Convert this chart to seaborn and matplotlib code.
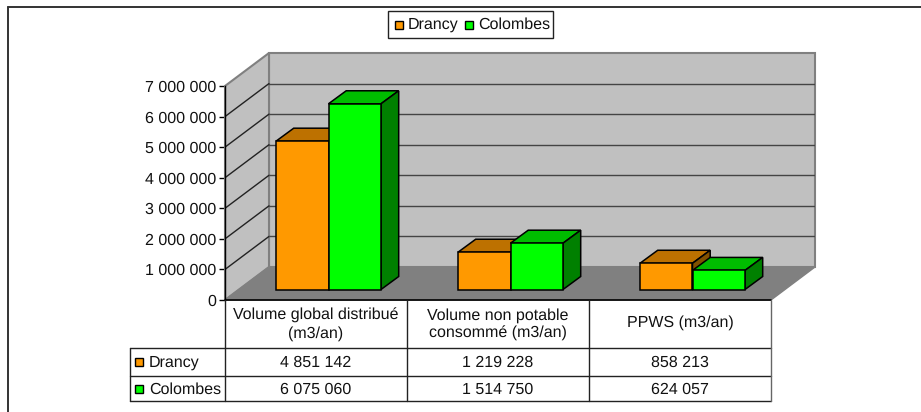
import matplotlib
matplotlib.use("Agg")
import matplotlib.pyplot as plt
from matplotlib.patches import Polygon, Rectangle
from matplotlib.lines import Line2D
import pandas as pd
import seaborn as sns

categories = ["Volume global distribué\n(m3/an)", "Volume non potable\nconsommé (m3/an)", "PPWS (m3/an)"]
series_names = ["Drancy", "Colombes"]
drancy = [4851142, 1219228, 858213]
colombes = [6075060, 1514750, 624057]
y_ticks = [0, 1000000, 2000000, 3000000, 4000000, 5000000, 6000000, 7000000]
fmt = lambda v: f"{v:,}".replace(",", " ")

FRONT = {"Drancy": "#FF9900", "Colombes": "#00FF00"}
TOP = {"Drancy": "#BD7100", "Colombes": "#00BD00"}
SIDE = {"Drancy": "#805000", "Colombes": "#008000"}

W, H = 921, 412
sns.set_theme(style="white")
plt.rcParams["font.family"] = ["Liberation Sans", "DejaVu Sans"]
plt.rcParams["text.hinting"] = "no_hinting"
plt.rcParams["text.hinting_factor"] = 1
FS = 11.5
fig = plt.figure(figsize=(W / 100, H / 100), dpi=100)

# full-figure overlay in pixel coords (frame, legend, data table)
ov = fig.add_axes([0, 0, 1, 1], zorder=3)
ov.set_xlim(0, W); ov.set_ylim(H, 0); ov.axis("off"); ov.patch.set_alpha(0)

# plot box: x 225..815 px, y 53..300 px
L, R, T, B = 225, 815, 53, 300
ax = fig.add_axes([L / W, 1 - B / H, (R - L) / W, (B - T) / H], zorder=2)
ax.patch.set_alpha(0)
fig.patch.set_facecolor("white")

df = pd.DataFrame({
    "cat": categories * 2,
    "series": [series_names[0]] * 3 + [series_names[1]] * 3,
    "value": drancy + colombes,
})
GROUP_W = 105 / 182
sns.barplot(data=df, x="cat", y="value", hue="series", palette=FRONT, width=GROUP_W, gap=0,
            dodge=True, legend=False, ax=ax, edgecolor="black", linewidth=1.1, saturation=1, zorder=5)

PX_PER_CAT = 182
PX_PER_VAL = 214 / 7000000
ax.set_xlim(-0.5, -0.5 + (R - L) / PX_PER_CAT)
ax.set_ylim(0, (B - T) / PX_PER_VAL)
px = lambda p: p / PX_PER_CAT
py = lambda p: p / PX_PER_VAL

# 3-D depth of the room and of the bars, in px
RD_X, RD_Y = 44, 33
BD_X, BD_Y = 17.7, 13
SH_X, SH_Y = 12.5, 10.5
x0, x1 = -0.5, 2.5
top = 7000000

ax.add_patch(Polygon([(x0 + px(RD_X), py(RD_Y)), (x1 + px(RD_X), py(RD_Y)),
                      (x1 + px(RD_X), top + py(RD_Y)), (x0 + px(RD_X), top + py(RD_Y))],
                     fc="#C0C0C0", ec="#808080", lw=1.5, zorder=1, clip_on=False))
ax.add_patch(Polygon([(x0, 0), (x0 + px(RD_X), py(RD_Y)),
                      (x0 + px(RD_X), top + py(RD_Y)), (x0, top)],
                     fc="#C0C0C0", ec="#808080", lw=1.5, zorder=1, clip_on=False))
ax.add_patch(Polygon([(x0, 0), (x1, 0), (x1 + px(RD_X), py(RD_Y)), (x0 + px(RD_X), py(RD_Y))],
                     fc="#808080", ec="#808080", lw=1, zorder=1.5, clip_on=False))
for v in y_ticks[1:-1]:
    ax.plot([x0, x0 + px(RD_X)], [v, v + py(RD_Y)], color="#222222", lw=1, zorder=2)
    ax.plot([x0 + px(RD_X), x1 + px(RD_X)], [v + py(RD_Y)] * 2, color="#444444", lw=1, zorder=2)

bars = [b for b in ax.patches if isinstance(b, Rectangle)]
names = [series_names[0]] * 3 + [series_names[1]] * 3
for b, n in zip(bars, names):
    b.set_x(b.get_x() + px(SH_X))
    b.set_y(py(SH_Y))
    xa, xb = b.get_x(), b.get_x() + b.get_width()
    yb, yt = b.get_y(), b.get_y() + b.get_height()
    dx, dy = px(BD_X), py(BD_Y)
    z = 4 if n == "Drancy" else 4.5
    b.set_zorder(z + 0.2)
    ax.add_patch(Polygon([(xa, yt), (xb, yt), (xb + dx, yt + dy), (xa + dx, yt + dy)],
                         fc=TOP[n], ec="black", lw=1.1, zorder=z))
    ax.add_patch(Polygon([(xb, yb), (xb + dx, yb + dy), (xb + dx, yt + dy), (xb, yt)],
                         fc=SIDE[n], ec="black", lw=1.1, zorder=z))

ax.set_xlabel(""); ax.set_ylabel("")
ax.set_xticks([])
ax.set_yticks(y_ticks)
ax.set_yticklabels([fmt(v) for v in y_ticks], fontsize=FS, color="#111111")
ax.tick_params(axis="y", length=4, width=1, color="black", pad=2, left=True)
for s in ["top", "right", "bottom"]:
    ax.spines[s].set_visible(False)
ax.spines["left"].set_bounds(0, top)
ax.spines["left"].set_color("black")
ax.spines["left"].set_linewidth(1)

# outer frame: top and left edges only
def seg(xs, ys, lw=1, col="#222222"):
    ov.add_line(Line2D(xs, ys, color=col, lw=lw))
seg([8, W], [6.5, 6.5], 1.4, "#333333")
seg([8, 8], [6.5, H], 1.4, "#333333")

# data table
cols = [225, 407, 589, 771]
rows = [300, 348, 376, 401]
LEFT = 130
seg([225, 771], [300, 300], 1.2, "black")
seg([LEFT, 771], [rows[1]] * 2)
seg([LEFT, 771], [rows[2]] * 2)
seg([LEFT, 771], [rows[3]] * 2)
seg([LEFT, LEFT], [rows[1], rows[3]])
for xc in cols:
    seg([xc, xc], [300, rows[3]], 1, "#666666" if xc == 771 else "#222222")
for i, label in enumerate(categories):
    xc = (cols[i] + cols[i + 1]) / 2
    ov.text(xc, 324.5 if "\n" in label else 323, label, ha="center", va="center", fontsize=FS,
            color="#111111", linespacing=1.22)
    ov.text(xc, 363, fmt(drancy[i]), ha="center", va="center", fontsize=FS, color="#111111")
    ov.text(xc, 390, fmt(colombes[i]), ha="center", va="center", fontsize=FS, color="#111111")
for name, yc in zip(series_names, [(rows[1] + rows[2]) / 2, (rows[2] + rows[3]) / 2]):
    ov.add_patch(Rectangle((135, yc - 4), 8, 8, fc=FRONT[name], ec="black", lw=1))
    ov.text(149, yc + 1, name, ha="left", va="center", fontsize=FS, color="#111111")

# legend box
ov.add_patch(Rectangle((388, 10.5), 165, 27.5, fc="white", ec="#222222", lw=1))
for name, xm, xt in zip(series_names, [395, 465], [408, 478]):
    ov.add_patch(Rectangle((xm, 21), 8, 8, fc=FRONT[name], ec="black", lw=1))
    ov.text(xt, 25, name, ha="left", va="center", fontsize=FS, color="#111111")

fig.savefig("out.png", dpi=100)
